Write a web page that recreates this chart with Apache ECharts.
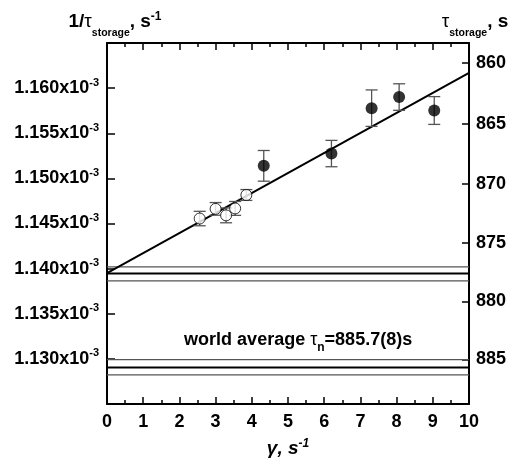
<!DOCTYPE html>
<html>
<head>
<meta charset="utf-8">
<script src="https://cdn.jsdelivr.net/npm/echarts@6/dist/echarts.min.js"></script>
<style>
  html, body { margin: 0; padding: 0; background: #fff; }
  #chart { width: 510px; height: 464px; }
</style>
</head>
<body>
<div id="chart"></div>
<script>
// Storage loss rate 1/tau vs. loss parameter gamma
const FONT = '"Liberation Sans", Arial, Helvetica, sans-serif';

// open circles: [gamma (s^-1), 1/tau (s^-1), error]
const openPoints = [
  [2.56, 1.14555e-3, 0.00080e-3],
  [3.00, 1.14662e-3, 0.00070e-3],
  [3.29, 1.14590e-3, 0.00082e-3],
  [3.54, 1.14667e-3, 0.00077e-3],
  [3.85, 1.14816e-3, 0.00060e-3]
];
// filled circles: [gamma, 1/tau, error]
const filledPoints = [
  [4.33, 1.15139e-3, 0.00170e-3],
  [6.20, 1.15275e-3, 0.00146e-3],
  [7.31, 1.15778e-3, 0.00202e-3],
  [8.07, 1.15901e-3, 0.00147e-3],
  [9.04, 1.15752e-3, 0.00154e-3]
];
// linear fit, end points
const fitLine = [[0, 1.13950e-3], [10, 1.16170e-3]];

// extrapolated value (gamma = 0) with its band: upper, centre, lower
const extrapBand = [1.14020e-3, 1.13945e-3, 1.13865e-3];
// world average tau_n = 885.7(8) s: upper, centre, lower
const worldTau = 885.7;
const worldBand = [1.12991e-3, 1 / worldTau, 1.12823e-3];

// tick labels
const rateTicks = [1.130e-3, 1.135e-3, 1.140e-3, 1.145e-3, 1.150e-3, 1.155e-3, 1.160e-3];
const tauTicks = [860, 865, 870, 875, 880, 885];

const xRange = [0, 10];
const yMin = 1.125e-3, yMax = 1.165e-3;

const chart = echarts.init(document.getElementById('chart'), null, { renderer: 'canvas' });

const axisLineStyle = { color: '#000', width: 2 };

function errorBars(params, api) {
  const x = api.value(0), y = api.value(1), e = api.value(2);
  const top = api.coord([x, y + e]);
  const bot = api.coord([x, y - e]);
  const hw = 6;
  const style = { stroke: '#555', lineWidth: 1.3 };
  return {
    type: 'group',
    children: [
      { type: 'line', shape: { x1: top[0], y1: top[1], x2: bot[0], y2: bot[1] }, style },
      { type: 'line', shape: { x1: top[0] - hw, y1: top[1], x2: top[0] + hw, y2: top[1] }, style },
      { type: 'line', shape: { x1: bot[0] - hw, y1: bot[1], x2: bot[0] + hw, y2: bot[1] }, style }
    ]
  };
}

// one horizontal line across the full gamma range
const hLine = (v, strong) => ({
  type: 'line',
  xAxisIndex: 0, yAxisIndex: 0,
  data: [[xRange[0], v], [xRange[1], v]],
  symbol: 'none',
  silent: true,
  z: 2,
  lineStyle: strong ? { color: '#000', width: 2 } : { color: '#555', width: 1.3 }
});

const subStyle = { fontSize: 10.5, fontWeight: 'bold', color: '#000', fontFamily: FONT, verticalAlign: 'bottom', lineHeight: 12, padding: [0, 0, -6, 0] };

const option = {
  animation: false,
  backgroundColor: '#fff',
  textStyle: { fontFamily: FONT },
  grid: { left: 107, right: 41, top: 43, bottom: 60, outerBoundsMode: 'none', containLabel: false },
  xAxis: [
    {
      type: 'value', position: 'bottom', min: xRange[0], max: xRange[1], interval: 1,
      axisLine: { show: true, onZero: false, lineStyle: axisLineStyle },
      axisTick: { show: true, inside: true, length: 7, lineStyle: { color: '#000', width: 1.5 } },
      minorTick: { show: true, splitNumber: 2, length: 4, lineStyle: { color: '#000', width: 1.5 } },
      splitLine: { show: false },
      axisLabel: { color: '#000', fontSize: 18, fontWeight: 'bold', fontFamily: FONT, margin: 9 },
      name: '{i|γ, s}{e|-1}',
      nameLocation: 'middle',
      nameGap: 34,
      nameTextStyle: {
        rich: {
          i: { fontSize: 19, fontWeight: 'bold', fontStyle: 'italic', color: '#000', fontFamily: FONT, lineHeight: 22 },
          e: { fontSize: 12, fontWeight: 'bold', fontStyle: 'italic', color: '#000', fontFamily: FONT, verticalAlign: 'top', lineHeight: 12 }
        }
      }
    },
    {
      type: 'value', position: 'top', min: xRange[0], max: xRange[1], interval: 1,
      axisLine: { show: true, onZero: false, lineStyle: axisLineStyle },
      axisTick: { show: true, inside: true, length: 7, lineStyle: { color: '#000', width: 1.5 } },
      minorTick: { show: true, splitNumber: 2, length: 4, lineStyle: { color: '#000', width: 1.5 } },
      splitLine: { show: false },
      axisLabel: { show: false }
    }
  ],
  yAxis: [
    {
      type: 'value', position: 'left', min: yMin, max: yMax,
      axisLine: { show: true, onZero: false, lineStyle: axisLineStyle },
      axisTick: { show: true, inside: true, length: 8, customValues: rateTicks, lineStyle: { color: '#000', width: 1.5 } },
      splitLine: { show: false },
      axisLabel: {
        customValues: rateTicks,
        margin: 8,
        formatter: v => '{m|' + (v * 1e3).toFixed(3) + 'x10}{e|-3}',
        rich: {
          m: { fontSize: 18, fontWeight: 'bold', color: '#000', fontFamily: FONT, lineHeight: 22 },
          e: { fontSize: 11, fontWeight: 'bold', color: '#000', fontFamily: FONT, verticalAlign: 'top', lineHeight: 11 }
        }
      },
      name: '{n|1/}{g|τ}{s|storage}{n|, s}{e|-1}',
      nameLocation: 'end',
      nameGap: 10,
      nameTextStyle: {
        align: 'center',
        padding: [0, 0, 0, 16],
        rich: {
          n: { fontSize: 19, fontWeight: 'bold', color: '#000', fontFamily: FONT, lineHeight: 22 },
          g: { fontSize: 19, fontWeight: 'normal', color: '#000', fontFamily: FONT, lineHeight: 22 },
          s: subStyle,
          e: { fontSize: 12, fontWeight: 'bold', color: '#000', fontFamily: FONT, verticalAlign: 'top', lineHeight: 12 }
        }
      }
    },
    {
      type: 'value', position: 'right', min: yMin, max: yMax,
      axisLine: { show: true, onZero: false, lineStyle: axisLineStyle },
      axisTick: { show: true, inside: true, length: 7, customValues: tauTicks.map(t => 1 / t), lineStyle: { color: '#000', width: 1.5 } },
      splitLine: { show: false },
      axisLabel: {
        customValues: tauTicks.map(t => 1 / t),
        margin: 7,
        formatter: v => String(Math.round(1 / v)),
        color: '#000', fontSize: 18, fontWeight: 'bold', fontFamily: FONT
      },
      name: '{g|τ}{s|storage}{n|, s}',
      nameLocation: 'end',
      nameGap: 10,
      nameTextStyle: {
        align: 'center',
        padding: [0, 0, 0, 12],
        rich: {
          n: { fontSize: 19, fontWeight: 'bold', color: '#000', fontFamily: FONT, lineHeight: 22 },
          g: { fontSize: 19, fontWeight: 'normal', color: '#000', fontFamily: FONT, lineHeight: 22 },
          s: subStyle
        }
      }
    }
  ],
  series: [
    hLine(extrapBand[0], false),
    hLine(extrapBand[1], true),
    hLine(extrapBand[2], false),
    hLine(worldBand[0], false),
    hLine(worldBand[1], true),
    hLine(worldBand[2], false),
    {
      type: 'line',
      xAxisIndex: 0, yAxisIndex: 0,
      data: fitLine,
      symbol: 'none',
      lineStyle: { color: '#000', width: 2 },
      silent: true,
      z: 3
    },
    {
      type: 'custom',
      xAxisIndex: 0, yAxisIndex: 0,
      renderItem: errorBars,
      data: openPoints.concat(filledPoints),
      encode: { x: 0, y: 1 },
      silent: true,
      z: 4
    },
    {
      type: 'scatter',
      xAxisIndex: 0, yAxisIndex: 0,
      data: openPoints.map(p => [p[0], p[1]]),
      symbol: 'circle',
      symbolSize: 11,
      itemStyle: { color: '#fff', borderColor: '#000', borderWidth: 1 },
      z: 5
    },
    {
      type: 'scatter',
      xAxisIndex: 0, yAxisIndex: 0,
      data: filledPoints.map(p => [p[0], p[1]]),
      symbol: 'circle',
      symbolSize: 12,
      itemStyle: { color: '#000' },
      z: 5
    }
  ]
};

chart.setOption(option);

// caption above the world-average band, anchored in data coordinates
const anchor = chart.convertToPixel({ xAxisIndex: 0, yAxisIndex: 0 }, [5.28, worldBand[0]]);
chart.setOption({
  graphic: [{
    type: 'text',
    x: anchor[0],
    y: anchor[1] - 9,
    z: 10,
    silent: true,
    style: {
      text: '{t|world average }{g|τ}{s|n}{t|=' + worldTau.toFixed(1) + '(8)s}',
      align: 'center',
      verticalAlign: 'bottom',
      rich: {
        t: { fontSize: 18, fontWeight: 'bold', fill: '#000', fontFamily: FONT, lineHeight: 22 },
        g: { fontSize: 18, fontWeight: 'normal', fill: '#000', fontFamily: FONT, lineHeight: 22 },
        s: { fontSize: 12, fontWeight: 'bold', fill: '#000', fontFamily: FONT, verticalAlign: 'bottom', lineHeight: 12, padding: [0, 0, -3, 0] }
      }
    }
  }]
});
</script>
</body>
</html>
